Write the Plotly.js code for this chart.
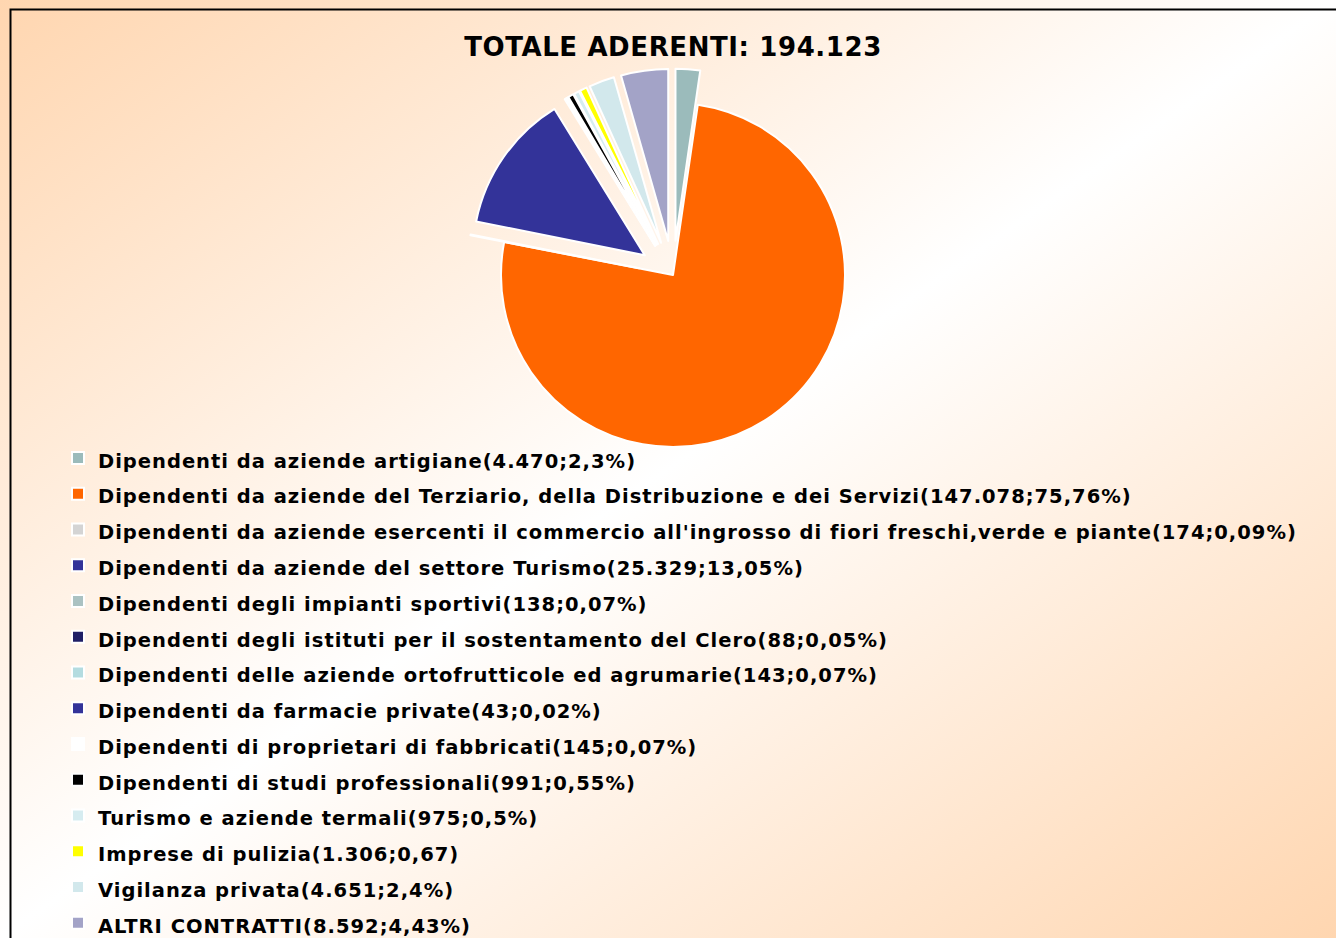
<!DOCTYPE html>
<html>
<head>
<meta charset="utf-8">
<script src="https://cdn.plot.ly/plotly-3.0.1.min.js"></script>
<style>
html, body { margin:0; padding:0; }
body {
  width:1336px; height:938px; overflow:hidden;
  background: linear-gradient(to bottom right, #FFD6B0 0%, #FFFFFF 50%, #FFD6B0 100%);
}
#chart { width:1336px; height:938px; }
</style>
</head>
<body>
<div id="chart"></div>
<script>
const categories = [
  "Dipendenti da aziende artigiane(4.470;2,3%)",
  "Dipendenti da aziende del Terziario, della Distribuzione e dei Servizi(147.078;75,76%)",
  "Dipendenti da aziende esercenti il commercio all'ingrosso di fiori freschi,verde e piante(174;0,09%)",
  "Dipendenti da aziende del settore Turismo(25.329;13,05%)",
  "Dipendenti degli impianti sportivi(138;0,07%)",
  "Dipendenti degli istituti per il sostentamento del Clero(88;0,05%)",
  "Dipendenti delle aziende ortofrutticole ed agrumarie(143;0,07%)",
  "Dipendenti da farmacie private(43;0,02%)",
  "Dipendenti di proprietari di fabbricati(145;0,07%)",
  "Dipendenti di studi professionali(991;0,55%)",
  "Turismo e aziende termali(975;0,5%)",
  "Imprese di pulizia(1.306;0,67)",
  "Vigilanza privata(4.651;2,4%)",
  "ALTRI CONTRATTI(8.592;4,43%)"
];
const members = [4470, 147078, 174, 25329, 138, 88, 143, 43, 145, 991, 975, 1306, 4651, 8592];
const sliceColors = ["#9BBBBB", "#FF6600", "#D4D4D4", "#333399", "#ABC2C2", "#1F1F66",
  "#B4DCE0", "#333399", "#FFFFFF", "#000000", "#D6ECF0", "#FFFF00", "#D2E8EC", "#A3A3C7"];
const pulls = [0.2, 0, 0.2, 0.2, 0.2, 0.2, 0.2, 0.2, 0.2, 0.2, 0.2, 0.2, 0.2, 0.2];
const chartTitle = "TOTALE ADERENTI: 194.123";

const W = 1336, H = 938;
const trace = {
  type: 'pie',
  labels: categories.map(c => '<span style="font-size:19.5px;letter-spacing:1px">' + c + '</span>'),
  values: members,
  sort: false,
  direction: 'clockwise',
  rotation: 0,
  pull: pulls,
  textinfo: 'none',
  hoverinfo: 'label+value+percent',
  marker: { colors: sliceColors, line: { color: '#FFFFFF', width: 2 } },
  domain: { x: [(673 - 206.4) / W, (673 + 206.4) / W], y: [(663 - 206.4) / H, (663 + 206.4) / H] }
};

const layout = {
  width: W, height: H,
  margin: { l: 0, r: 0, t: 0, b: 0, pad: 0, autoexpand: false },
  paper_bgcolor: 'rgba(0,0,0,0)',
  plot_bgcolor: 'rgba(0,0,0,0)',
  font: { family: 'DejaVu Sans', color: '#000000' },
  title: {
    text: '<b><span style="letter-spacing:0.6px">' + chartTitle + '</span></b>',
    font: { family: 'DejaVu Sans', size: 26, color: '#000000' },
    x: 673 / W, xanchor: 'center', xref: 'paper',
    y: 1 - 47 / H, yanchor: 'middle', yref: 'container'
  },
  showlegend: true,
  legend: {
    x: 58 / W, xanchor: 'left',
    y: 1 - 435 / H, yanchor: 'top',
    orientation: 'v',
    bgcolor: 'rgba(0,0,0,0)',
    borderwidth: 0,
    font: { family: 'DejaVu Sans', size: 25.2, color: '#000000', weight: 'bold' },
    traceorder: 'normal'
  },
  shapes: [{
    type: 'rect', xref: 'paper', yref: 'paper',
    x0: 10.5 / W, x1: 1.02, y0: -0.02, y1: 1 - 9.5 / H,
    line: { color: '#000000', width: 2 }, fillcolor: 'rgba(0,0,0,0)', layer: 'below'
  }]
};

Plotly.newPlot('chart', [trace], layout, { displayModeBar: false, staticPlot: true });
</script>
</body>
</html>
